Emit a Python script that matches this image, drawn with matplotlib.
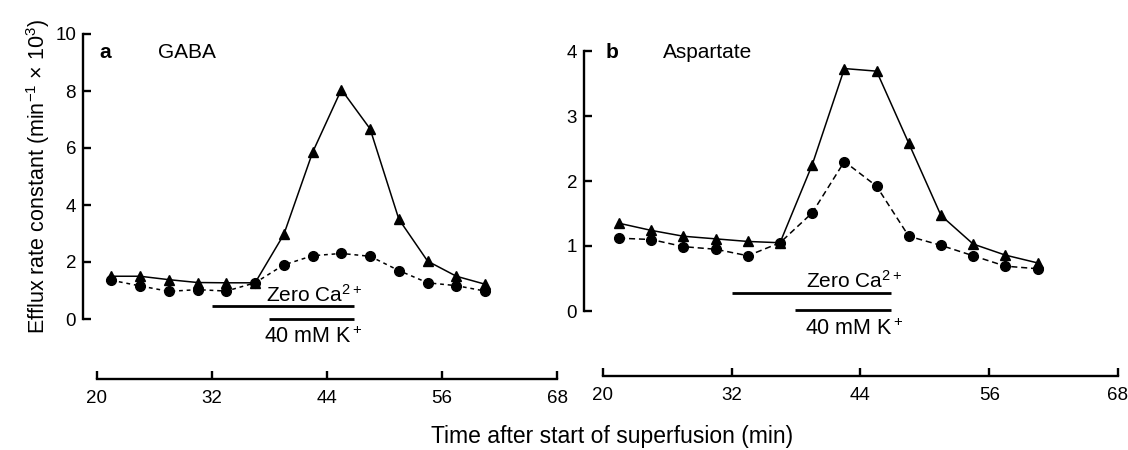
import numpy as np
import matplotlib
matplotlib.use('Agg')
import matplotlib.pyplot as plt

plt.rcParams['font.family'] = ['Liberation Sans', 'DejaVu Sans']
plt.rcParams['mathtext.fontset'] = 'custom'
plt.rcParams['mathtext.rm'] = 'Liberation Sans'
plt.rcParams['mathtext.it'] = 'Liberation Sans:italic'
plt.rcParams['mathtext.bf'] = 'Liberation Sans:bold'

# sampling times (min after start of superfusion)
time = [21.5, 24.5, 27.5, 30.5, 33.5, 36.5, 39.5, 42.5, 45.5, 48.5, 51.5, 54.5, 57.5, 60.5]

# a: GABA
gaba_tri = [1.5, 1.5, 1.38, 1.28, 1.27, 1.27, 2.97, 5.85, 8.05, 6.67, 3.5, 2.03, 1.5, 1.22]
gaba_circ = [1.36, 1.16, 0.97, 1.03, 0.98, 1.27, 1.9, 2.22, 2.3, 2.2, 1.7, 1.27, 1.17, 0.98]

# b: Aspartate
asp_tri = [1.35, 1.24, 1.15, 1.11, 1.07, 1.05, 2.25, 3.73, 3.69, 2.58, 1.47, 1.03, 0.86, 0.74]
asp_circ = [1.12, 1.10, 0.99, 0.95, 0.85, 1.05, 1.51, 2.30, 1.92, 1.15, 1.01, 0.85, 0.69, 0.65]

# treatment periods (min)
zero_ca = (32.0, 46.8)
high_k = (37.9, 46.8)

xticks = [20, 32, 44, 56, 68]
yticks_a = [0, 2, 4, 6, 8, 10]
yticks_b = [0, 1, 2, 3, 4]

W, H = 1128, 450
fig = plt.figure(figsize=(W / 100, H / 100), dpi=100)


def px_axes(left, right, top, bottom):
    return fig.add_axes([left / W, 1 - bottom / H, (right - left) / W, (bottom - top) / H])


def style(ax, xlo, ymax, yticks, drop):
    ax.set_xlim(xlo, 68)
    ax.set_ylim(0, ymax)
    for s in ('top', 'right'):
        ax.spines[s].set_visible(False)
    for s in ('left', 'bottom'):
        ax.spines[s].set_linewidth(1.7)
    ax.spines['left'].set_bounds(0, ymax)
    ax.spines['bottom'].set_bounds(20, 68)
    ax.spines['bottom'].set_position(('outward', drop))
    ax.set_xticks(xticks)
    ax.set_yticks(yticks)
    ax.tick_params(direction='in', length=6, width=1.7, labelsize=13.5)
    ax.tick_params(axis='x', pad=8)
    ax.tick_params(axis='y', pad=5)
    ax.patch.set_visible(False)


def bars(ax, y1, y2, ty1, ty2, tx):
    ax.plot(zero_ca, [y1, y1], color='k', lw=2, clip_on=False, solid_capstyle='butt')
    ax.plot(high_k, [y2, y2], color='k', lw=2, clip_on=False, solid_capstyle='butt')
    ax.text(tx, ty1, 'Zero Ca$^{2+}$', ha='center', va='baseline', fontsize=15)
    ax.text(tx, ty2, '40 mM K$^+$', ha='center', va='baseline', fontsize=15.5, clip_on=False)


# panel a
ax1 = px_axes(83, 557, 34, 319)
style(ax1, 18.54, 10, yticks_a, 43)
ax1.plot(time, gaba_tri, color='k', lw=1.1, marker='^', ms=7.5, clip_on=False)
ax1.plot(time, gaba_circ, color='k', lw=1.1, ls=(0, (2.5, 2.5)), marker='o', ms=7, clip_on=False)
bars(ax1, 0.46, 0.0, 0.6, -0.85, 42.6)
ax1.text(20.2, 9.35, 'a', fontsize=15, fontweight='bold', va='center')
ax1.text(26.4, 9.35, 'GABA', fontsize=15, va='center')
ax1.set_ylabel('Efflux rate constant (min$^{-1}$ × 10$^3$)', fontsize=15.5, labelpad=2)

# panel b
ax2 = px_axes(584, 1118, 51, 311)
style(ax2, 18.23, 4, yticks_b, 47)
ax2.plot(time, asp_tri, color='k', lw=1.1, marker='^', ms=7.5, clip_on=False)
ax2.plot(time, asp_circ, color='k', lw=1.1, ls=(0, (4, 2.5)), marker='o', ms=7, clip_on=False)
bars(ax2, 0.28, 0.015, 0.36, -0.37, 43.4)
ax2.text(20.2, 3.97, 'b', fontsize=15, fontweight='bold', va='center')
ax2.text(25.6, 3.97, 'Aspartate', fontsize=15, va='center')

fig.text(612 / W, 1 - 436 / H, 'Time after start of superfusion (min)', ha='center', va='center', fontsize=16.5)

fig.savefig('out.png', dpi=100)
